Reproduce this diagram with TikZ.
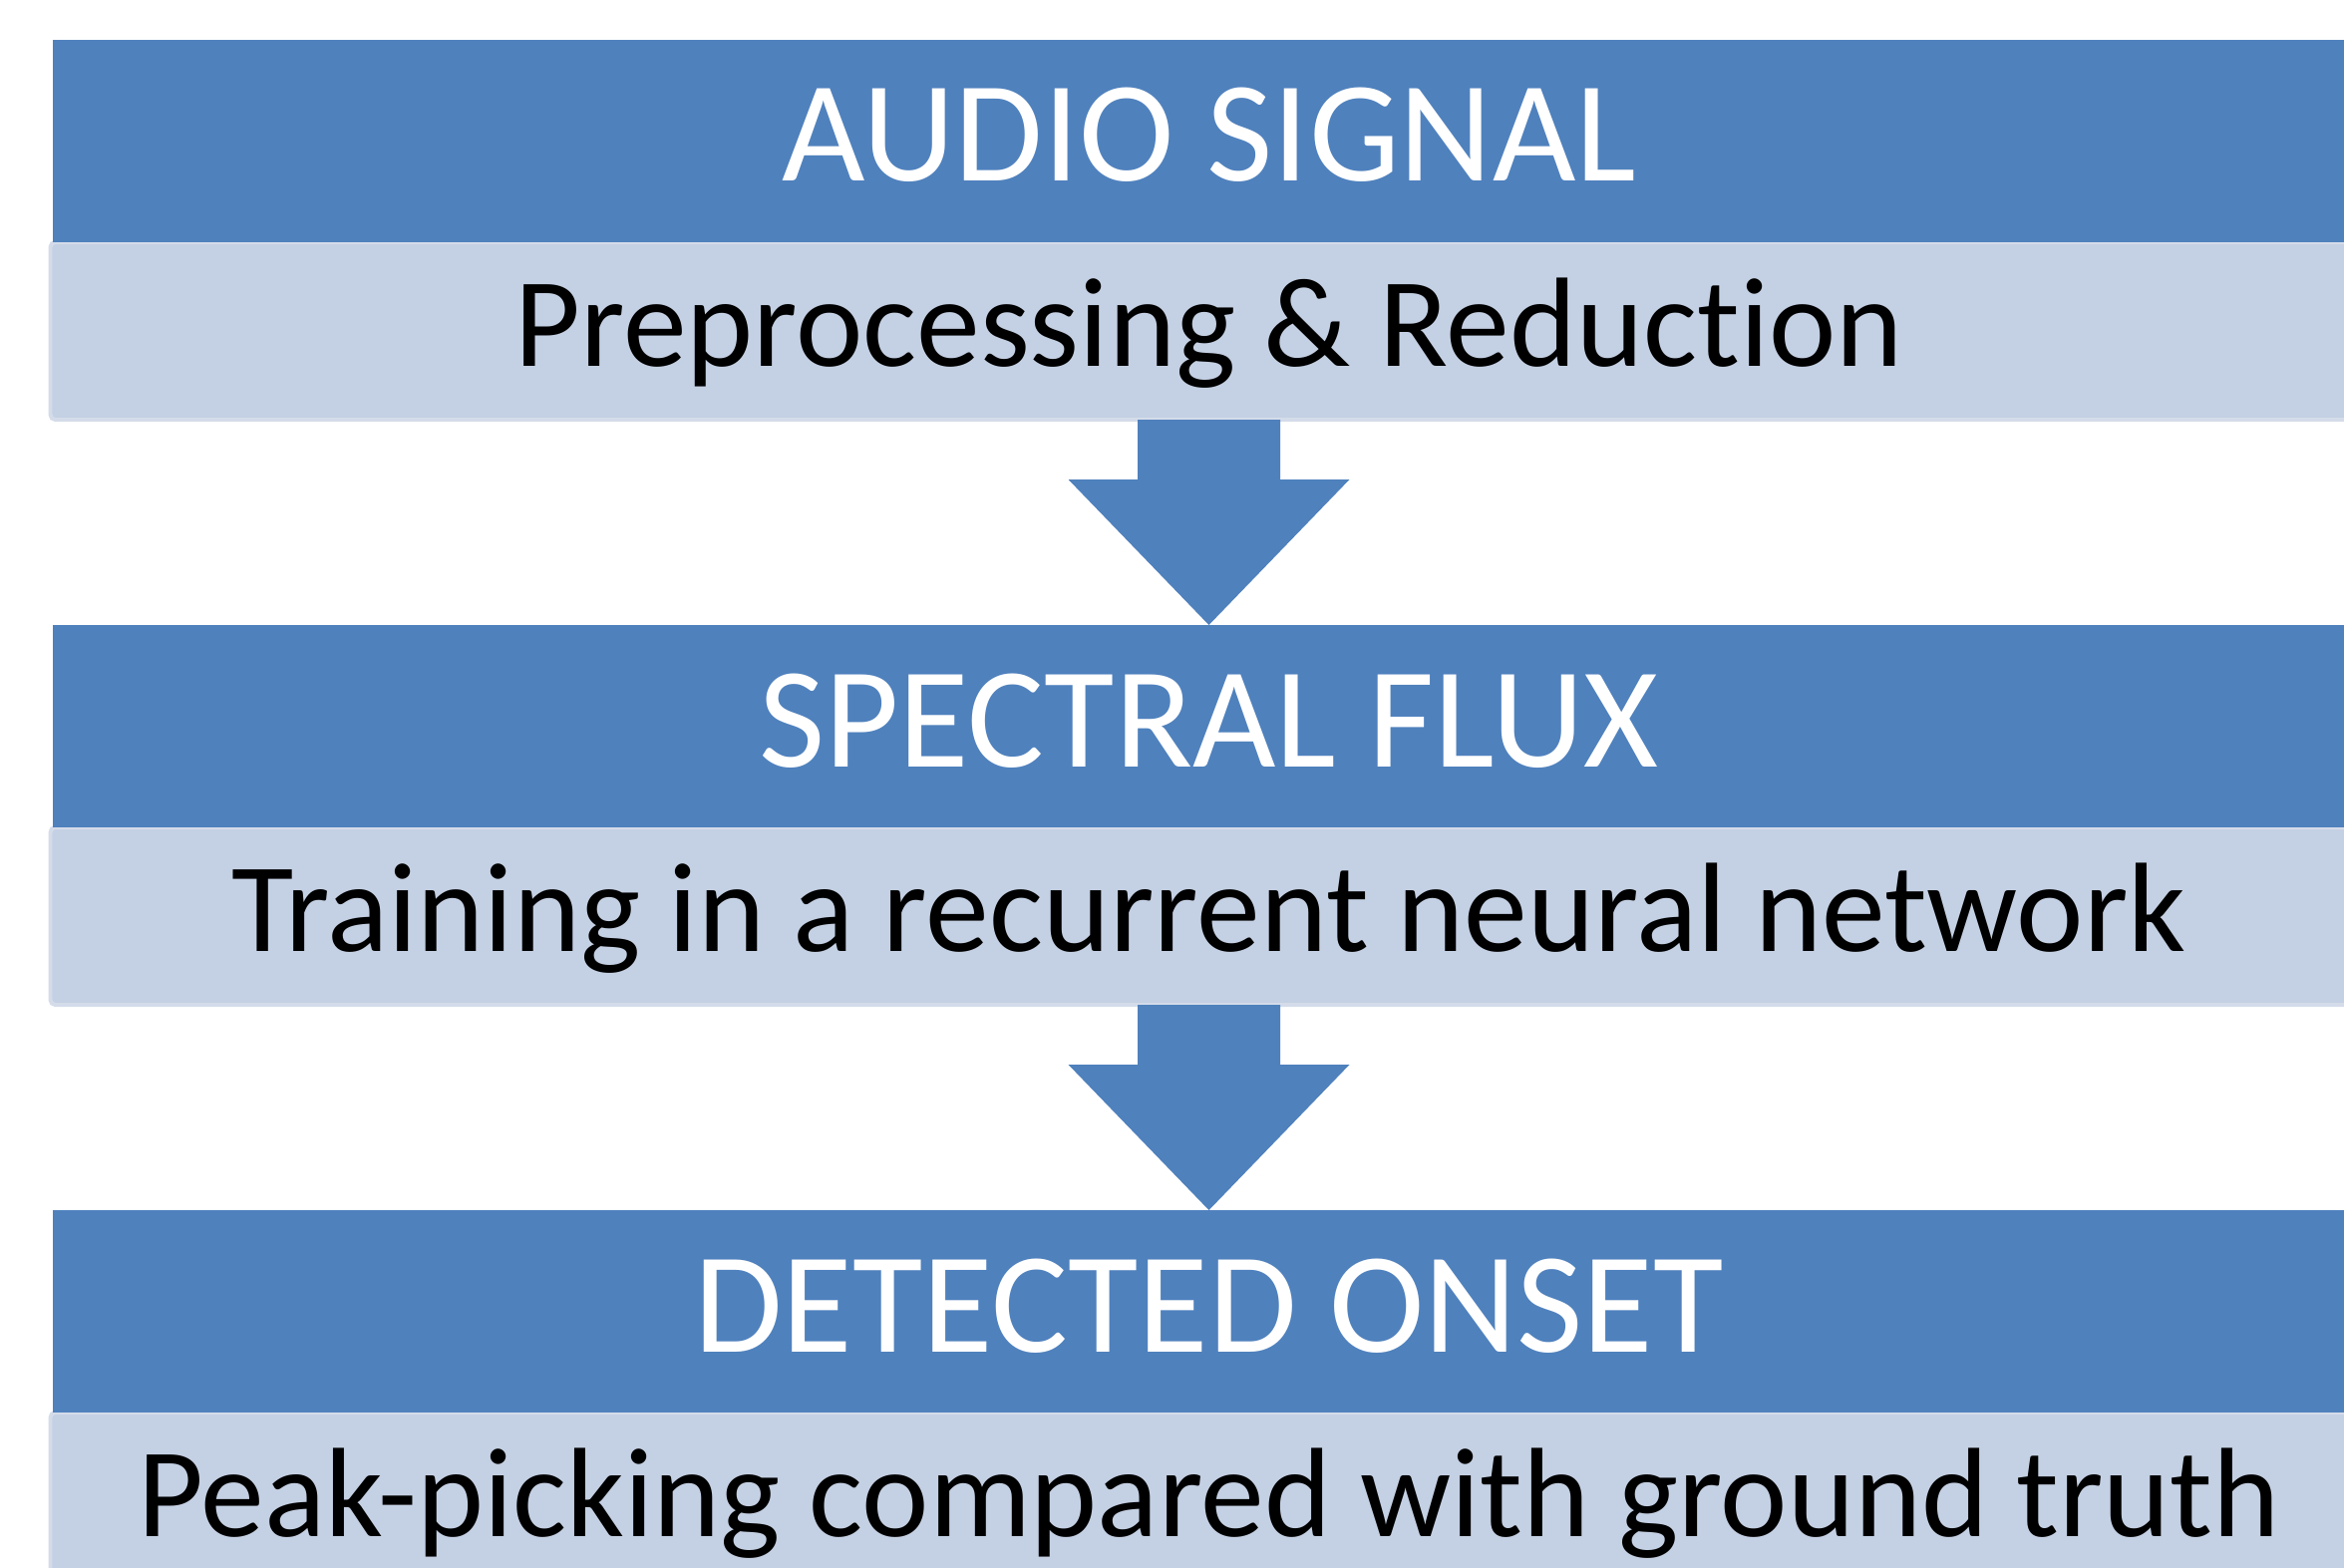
\documentclass[tikz,border=0pt]{standalone}
\usepackage{fontspec}
\setmainfont{Carlito}[Ligatures=NoCommon]
\usepackage{tikz}
\usetikzlibrary{positioning}
\definecolor{HeadBlue}{RGB}{79, 129, 189}
\definecolor{SubBlue}{RGB}{196, 208, 227}
\definecolor{SubEdge}{RGB}{212, 220, 234}

\begin{document}
\begin{tikzpicture}[
    head/.style={rectangle, fill=HeadBlue, text=white, outer sep=0pt, inner sep=0pt,
      minimum width=23.19cm, minimum height=2.03cm,
      text height=0.90cm, text depth=0.09cm, font=\fontsize{41}{49}\selectfont},
    sub/.style={rectangle, fill=SubBlue, draw=SubEdge, line width=0.04cm, rounded corners=0.5mm,
      outer sep=0pt, inner sep=0pt, minimum width=23.24cm, minimum height=1.78cm,
      text=black, text height=0.78cm, text depth=0.08cm, font=\fontsize{36.3}{44}\selectfont},
    flow/.style={fill=HeadBlue}
  ]
    \useasboundingbox (0, 0) rectangle (23.51, 15.72);

    % Stage 1
    \node[sub] (sub1) at (12.125, 12.40) {Preprocessing \& Reduction};
    \node[head, above=0pt of sub1] (head1) {AUDIO SIGNAL};

    % Stage 2
    \node[sub] (sub2) at (12.125, 6.53) {Training in a recurrent neural network};
    \node[head, above=0pt of sub2] (head2) {SPECTRAL FLUX};

    % Stage 3
    \node[sub] (sub3) at (12.125, 0.66) {Peak-picking compared with ground truth};
    \node[head, above=0pt of sub3] (head3) {DETECTED ONSET};

    % Block arrows
    \foreach \a/\b in {sub1/head2, sub2/head3} {
      \fill[flow] ([xshift=-7.15mm]\a.south) -- ([xshift=-7.15mm, yshift=-6mm]\a.south)
        -- ([xshift=-14.1mm, yshift=-6mm]\a.south) -- (\b.north)
        -- ([xshift=14.1mm, yshift=-6mm]\a.south) -- ([xshift=7.15mm, yshift=-6mm]\a.south)
        -- ([xshift=7.15mm]\a.south) -- cycle;
    }
  \end{tikzpicture}
\end{document}
